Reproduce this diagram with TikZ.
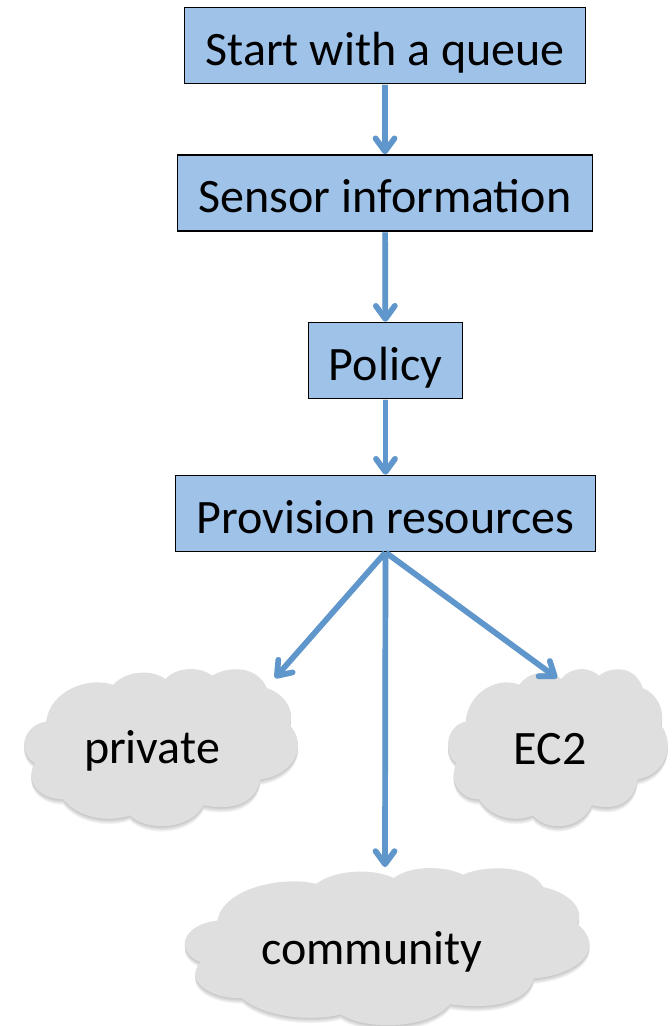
\documentclass[tikz,border=0pt]{standalone}
\usepackage{fontspec}
\setmainfont{Carlito}
\usetikzlibrary{arrows.meta}
\definecolor{myblue}{HTML}{9FC2E9}
\definecolor{myarrow}{HTML}{5F96CB}
\definecolor{mycloud}{HTML}{DFDFDF}
\tikzset{>={Straight Barb[length=13pt,width=19pt,round]}}
\newcommand{\cloudpath}{
  (.085,.333) .. controls (.098,.13) and (.244,.047) .. (.329,.10)
  .. controls (.378,.004) and (.476,.004) .. (.52,.064)
  .. controls (.561,-.017) and (.646,-.017) .. (.691,.042)
  .. controls (.744,-.017) and (.854,-.028) .. (.89,.121)
  .. controls (.951,.153) and (.994,.259) .. (.973,.354)
  .. controls (1.043,.492) and (.988,.67) .. (.866,.70)
  .. controls (.854,.83) and (.78,.905) .. (.659,.862)
  .. controls (.61,1.02) and (.451,1.032) .. (.39,.926)
  .. controls (.329,.968) and (.207,.958) .. (.146,.824)
  .. controls (.073,.83) and (0,.724) .. (.043,.597)
  .. controls (-.024,.525) and (0,.354) .. (.085,.333) -- cycle
}
\newcommand{\drawcloud}[4]{
  \begin{scope}[shift={(#1,#2)},x=#3pt,y=-#4pt]
    % soft shadow
    \foreach \s in {1,...,6}{
      \fill[black,opacity=0.04,yshift=-\s*0.9pt] \cloudpath;
    }
    \fill[mycloud] \cloudpath;
  \end{scope}
}
\begin{document}
\begin{tikzpicture}[
    x=1pt,y=-1pt,
    font=\fontsize{48}{54}\selectfont,
    stepbox/.style={draw=black,fill=myblue,line width=1.6pt,minimum height=76pt,
      inner sep=0pt,text height=42pt,text depth=3pt},
    cloudtext/.style={anchor=base,text=black},
    flow/.style={->,myarrow,line width=5.7pt,shorten <=0.5pt},
    flowshadow/.style={->,black,opacity=0.1,line width=5.7pt,yshift=-2pt}
  ]
  \useasboundingbox (0,0) rectangle (672,1026);

  % CLOUDS
  \drawcloud{23}{669}{274}{158}
  \drawcloud{447}{669}{220}{158}
  \drawcloud{183}{868}{405}{158}
  \node[cloudtext] (private) at (152,763.5) {private};
  \node[cloudtext] (ectwo) at (550,764.5) {EC2};
  \node[cloudtext] (community) at (372,964) {community};
  \coordinate (privatetip) at (275,678);
  \coordinate (ectwotip) at (557,678);
  \coordinate (communitytip) at (385,867);

  % BOXES
  \node[stepbox,minimum width=401pt] (start) at (385,45.5) {Start with a queue};
  \node[stepbox,minimum width=415pt] (sensor) at (385,193) {Sensor information};
  \node[stepbox,minimum width=154pt] (policy) at (385.5,360.5) {Policy};
  \node[stepbox,minimum width=420pt] (provision) at (385.5,513.5) {Provision resources};

  % ARROWS
  \foreach \from/\to in {start/sensor,sensor/policy,policy/provision,
    provision.south/privatetip,provision.south/ectwotip,provision.south/communitytip}{
    \draw[flowshadow] (\from) -- (\to);
    \draw[flow] (\from) -- (\to);
  }
\end{tikzpicture}
\end{document}
